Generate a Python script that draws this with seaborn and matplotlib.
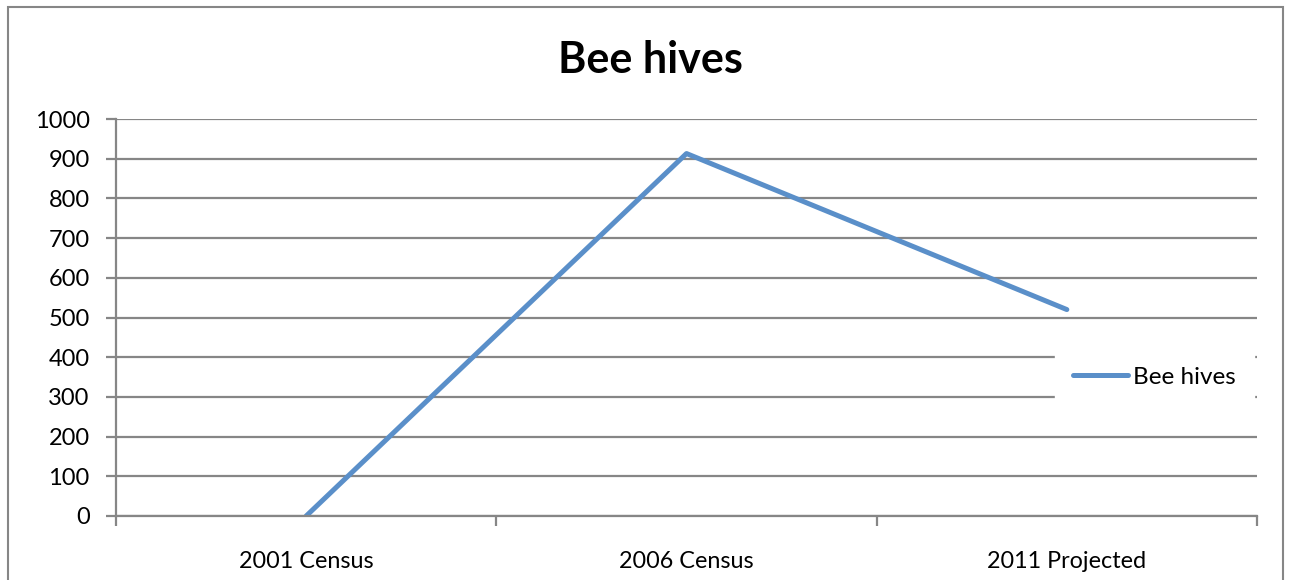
import matplotlib
matplotlib.use("Agg")
import matplotlib.pyplot as plt
import seaborn as sns
import pandas as pd
from matplotlib.patches import Rectangle

categories = ["2001 Census", "2006 Census", "2011 Projected"]
values = [0, 913, 520]
series_name = "Bee hives"
yticks = [0, 100, 200, 300, 400, 500, 600, 700, 800, 900, 1000]

sns.set_style("white")
plt.rcParams['font.family'] = ['Lato', 'DejaVu Sans']
plt.rcParams['text.color'] = 'black'

df = pd.DataFrame({"cat": categories, "val": values})

fig = plt.figure(figsize=(12.89, 5.8), dpi=100)
ax = fig.add_axes([116/1289, (580-516)/580, (1257-116)/1289, (516-119)/580])

grid_c = "#868686"
line_c = "#5A8FC9"

sns.lineplot(data=df, x="cat", y="val", ax=ax, color=line_c, lw=3.6,
             label=series_name, sort=False, solid_capstyle="round")

ax.set_xlim(-0.5, 2.5)
ax.set_ylim(0, 1000)
ax.set_yticks(yticks)
ax.set_yticklabels([str(t) for t in yticks])
ax.set_xticks(range(len(categories)))
ax.set_xticklabels(categories)
ax.set_xticks([-0.5, 0.5, 1.5, 2.5], minor=True)
ax.set_xlabel("")
ax.set_ylabel("")

ax.yaxis.grid(True, color=grid_c, lw=1.6)
ax.set_axisbelow(True)
for s in ["top", "right"]:
    ax.spines[s].set_visible(False)
ax.spines["left"].set_color(grid_c)
ax.spines["left"].set_linewidth(1.6)
ax.spines["bottom"].set_color(grid_c)
ax.spines["bottom"].set_linewidth(1.6)

ax.tick_params(axis="y", which="major", left=True, length=7, width=1.6,
               color=grid_c, labelsize=17, pad=12, labelcolor="black")
ax.tick_params(axis="x", which="major", bottom=False, labelsize=16.8, pad=22,
               labelcolor="black")
ax.tick_params(axis="x", which="minor", bottom=True, length=7, width=1.6,
               color=grid_c, direction="out")

leg = ax.legend(loc="center left", bbox_to_anchor=((1055-116)/(1257-116), (516-377)/397),
                frameon=True, fontsize=17.5, handlelength=2.25, handletextpad=0.2,
                borderpad=0.75, borderaxespad=0)
leg.get_frame().set_edgecolor("white")
leg.get_frame().set_facecolor("white")
leg.get_frame().set_alpha(1)
leg.get_frame().set_boxstyle("square", pad=0)
for t in leg.get_texts():
    t.set_color("black")

fig.text(650/1289, 1 - 60/580, "Bee hives", ha="center", va="center",
         fontsize=31, fontweight="bold", color="black")

fig.patches.append(Rectangle((8/1289, -0.05), (1283-8)/1289, 1 - 7/580 + 0.05,
                             transform=fig.transFigure, fill=False,
                             edgecolor=grid_c, lw=1.5))

fig.savefig("out.png", dpi=100, facecolor="white")
